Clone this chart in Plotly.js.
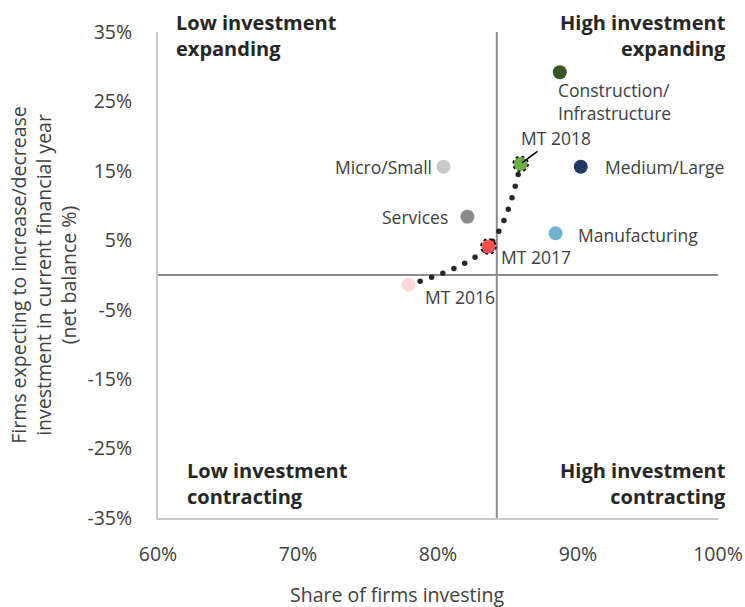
<!DOCTYPE html>
<html>
<head>
<meta charset="utf-8">
<script src="https://cdn.plot.ly/plotly-3.0.1.min.js"></script>
<style>
  html, body { margin: 0; padding: 0; background: #fff; }
  #chart { width: 745px; height: 607px; }
  .scatterlayer .js-line { stroke-linecap: round; }
</style>
</head>
<body>
<div id="chart"></div>
<script>
// ---- Data ----
const categories = ['Micro/Small', 'Services', 'Construction/<br>Infrastructure', 'Medium/Large', 'Manufacturing'];
const shareInvesting = [80.4, 82.1, 88.7, 90.2, 88.4];
const netBalance = [15.6, 8.4, 29.2, 15.6, 6.0];
const categoryColors = ['#c9c9c9', '#898b8d', '#375623', '#1f3864', '#72b2cf'];

const mtLabels = ['MT 2016', 'MT 2017', 'MT 2018'];
const mtShare = [77.9, 83.6, 85.9];
const mtBalance = [-1.4, 4.1, 16.0];
const mtColors = ['#ffd9d9', '#ff5050', '#70ad47'];

const xTicks = [60, 70, 80, 90, 100];
const yTicks = [-35, -25, -15, -5, 5, 15, 25, 35];

const crossShare = 84.2;
const crossBalance = 0;

const quadrantLabels = ['Low investment<br>expanding', 'High investment<br>expanding',
                        'Low investment<br>contracting', 'High investment<br>contracting'];

// ---- Label placement (styles) ----
const catLabelPos = [
  {xanchor: 'right', xshift: -10, yshift: 0, align: 'right'},
  {xanchor: 'right', xshift: -17, yshift: 0, align: 'right'},
  {xanchor: 'left', xshift: -4, yshift: -29, align: 'left'},
  {xanchor: 'left', xshift: 22, yshift: 0, align: 'left'},
  {xanchor: 'left', xshift: 20, yshift: -2, align: 'left'}
];
const mtLabelPos = [
  {xanchor: 'left', xshift: 14, yshift: -12},
  {xanchor: 'left', xshift: 11, yshift: -10},
  null
];
const quadPos = [
  {x: 0.028, y: 0.993, xanchor: 'left', align: 'left'},
  {x: 1.017, y: 0.993, xanchor: 'right', align: 'right'},
  {x: 0.048, y: 0.071, xanchor: 'left', align: 'left'},
  {x: 1.017, y: 0.071, xanchor: 'right', align: 'right'}
];

const labelFont = {family: 'Open Sans, sans-serif', size: 17.5, color: '#404040'};

const traces = [
  {
    type: 'scatter', mode: 'lines',
    x: mtShare, y: mtBalance,
    line: {shape: 'spline', smoothing: 1, color: '#262626', width: 5.5, dash: '0px,12px'},
    hoverinfo: 'skip', showlegend: false
  },
  {
    type: 'scatter', mode: 'markers',
    x: shareInvesting, y: netBalance, text: categories,
    marker: {size: 14, color: categoryColors, line: {width: 0}},
    showlegend: false
  },
  {
    type: 'scatter', mode: 'markers',
    x: mtShare, y: mtBalance, text: mtLabels,
    marker: {size: 14, color: mtColors, line: {width: 0}},
    showlegend: false
  }
];

const annotations = [];
categories.forEach((c, i) => {
  const p = catLabelPos[i];
  annotations.push({
    x: shareInvesting[i], y: netBalance[i], xref: 'x', yref: 'y',
    text: c, showarrow: false, font: labelFont,
    xanchor: p.xanchor, yanchor: 'middle', xshift: p.xshift, yshift: p.yshift, align: p.align
  });
});
mtLabels.forEach((c, i) => {
  const p = mtLabelPos[i];
  if (p) {
    annotations.push({
      x: mtShare[i], y: mtBalance[i], xref: 'x', yref: 'y',
      text: c, showarrow: false, font: labelFont,
      xanchor: p.xanchor, yanchor: 'middle', xshift: p.xshift, yshift: p.yshift
    });
  } else {
    annotations.push({
      x: mtShare[i], y: mtBalance[i], xref: 'x', yref: 'y',
      text: c, showarrow: true, arrowhead: 0, arrowwidth: 1.6, arrowcolor: '#000',
      ax: 35, ay: -26, standoff: 2, font: labelFont
    });
  }
});
quadrantLabels.forEach((q, i) => {
  const p = quadPos[i];
  annotations.push({
    x: p.x, y: p.y, xref: 'paper', yref: 'paper', text: '<b>' + q + '</b>',
    showarrow: false, xanchor: p.xanchor, yanchor: 'middle', align: p.align,
    font: {family: 'Open Sans, sans-serif', size: 20, color: '#262626'}
  });
});
// axis titles
annotations.push({
  x: -0.204, y: 0.5, xref: 'paper', yref: 'paper',
  text: 'Firms expecting to increase/decrease<br>investment in current financial year<br>(net balance %)',
  textangle: -90, showarrow: false, xanchor: 'center', yanchor: 'middle', align: 'center',
  font: {family: 'Open Sans, sans-serif', size: 19.5, color: '#404040'}
});
annotations.push({
  x: 0.427, y: -0.158, xref: 'paper', yref: 'paper',
  text: 'Share of firms investing', showarrow: false, xanchor: 'center', yanchor: 'middle',
  font: {family: 'Open Sans, sans-serif', size: 19.5, color: '#404040'}
});

const shapes = [
  {type: 'line', xref: 'x', yref: 'paper', x0: crossShare, x1: crossShare, y0: 0, y1: 1,
   line: {color: '#8c8c8c', width: 2}, layer: 'below'},
  {type: 'line', xref: 'paper', yref: 'y', x0: 0, x1: 1, y0: crossBalance, y1: crossBalance,
   line: {color: '#8c8c8c', width: 2}, layer: 'below'}
];
[1, 2].forEach(i => {
  shapes.push({
    type: 'circle', xref: 'x', yref: 'y', xsizemode: 'pixel', ysizemode: 'pixel',
    xanchor: mtShare[i], yanchor: mtBalance[i], x0: -7.5, x1: 7.5, y0: -7.5, y1: 7.5,
    line: {color: '#000', width: 1.5, dash: 'dot'}, layer: 'above'
  });
});

const layout = {
  width: 745, height: 607,
  margin: {l: 158, r: 27, t: 32, b: 89},
  paper_bgcolor: '#ffffff', plot_bgcolor: '#ffffff',
  font: {family: 'Open Sans, sans-serif', color: '#595959'},
  xaxis: {
    range: [60, 100], tickvals: xTicks, ticktext: xTicks.map(v => v + '%'),
    showgrid: false, zeroline: false, showline: true, linecolor: '#c8c8c8', linewidth: 2,
    ticks: '', ticklabelstandoff: 18, tickfont: {size: 19.5, color: '#404040'}, fixedrange: true
  },
  yaxis: {
    range: [-35, 35], tickvals: yTicks, ticktext: yTicks.map(v => v + '%'),
    showgrid: false, zeroline: false, showline: true, linecolor: '#c8c8c8', linewidth: 2,
    ticks: '', ticklabelstandoff: 20, tickfont: {size: 19.5, color: '#404040'}, fixedrange: true
  },
  annotations: annotations,
  shapes: shapes,
  showlegend: false
};

Plotly.newPlot('chart', traces, layout, {staticPlot: true});
</script>
</body>
</html>
